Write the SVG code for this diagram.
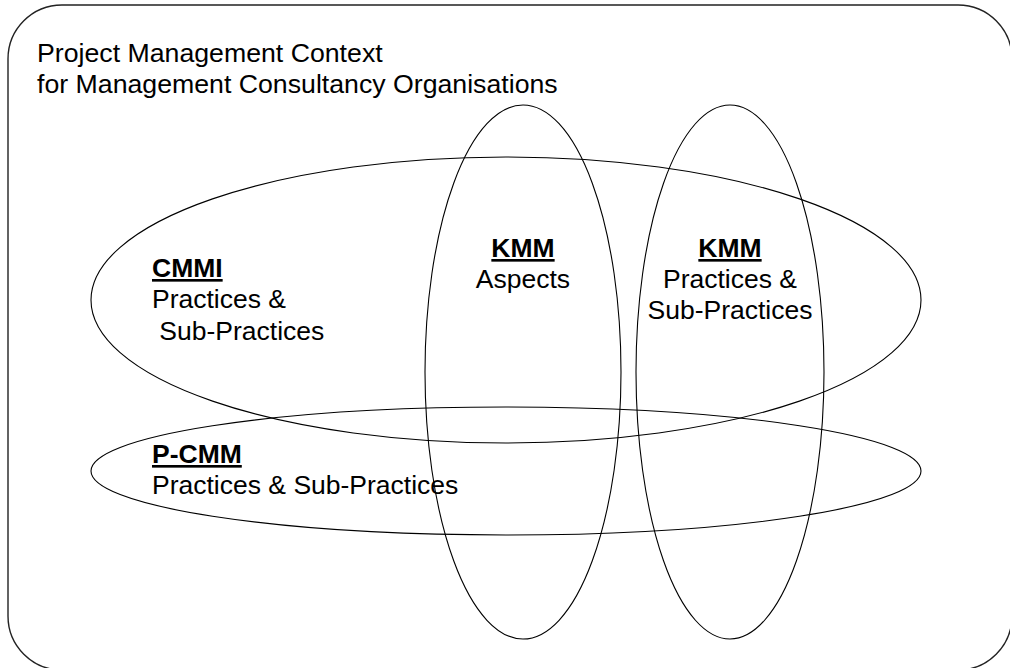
<svg xmlns="http://www.w3.org/2000/svg" width="1010" height="668" viewBox="0 0 1010 668">
<style>
  .frame { fill: none; stroke: #222; stroke-width: 1.4; }
  .set { fill: none; stroke: #000; stroke-width: 1.1; }
  .t { font-family: "Liberation Sans", Arial, sans-serif; font-size: 26.5px; fill: #000; }
  .h { font-weight: bold; text-decoration: underline; }
  .c { text-anchor: middle; }
</style>
<rect width="1010" height="668" fill="#fff"/>
<g id="context">
  <rect class="frame" x="8" y="5" width="1004" height="665" rx="54" ry="54"/>
  <text class="t" x="37" y="62" style="font-size:26.7px">Project Management Context</text>
  <text class="t" x="37" y="93" style="font-size:26.7px">for Management Consultancy Organisations</text>
</g>
<g id="cmmi">
  <ellipse class="set" cx="506" cy="300" rx="415" ry="143"/>
  <text class="t h" x="152" y="277">CMMI</text>
  <text class="t" x="152" y="308">Practices &amp;</text>
  <text class="t" x="152" y="340" xml:space="preserve"> Sub-Practices</text>
</g>
<g id="pcmm">
  <ellipse class="set" cx="506" cy="471" rx="415" ry="64"/>
  <text class="t h" x="152" y="463">P-CMM</text>
  <text class="t" x="152" y="494">Practices &amp; Sub-Practices</text>
</g>
<g id="kmm-aspects">
  <ellipse class="set" cx="523" cy="372" rx="98" ry="267"/>
  <text class="t h c" x="523" y="257">KMM</text>
  <text class="t c" x="523" y="288">Aspects</text>
</g>
<g id="kmm-practices">
  <ellipse class="set" cx="730" cy="372" rx="94" ry="267"/>
  <text class="t h c" x="730" y="257">KMM</text>
  <text class="t c" x="730" y="288">Practices &amp;</text>
  <text class="t c" x="730" y="319">Sub-Practices</text>
</g>
<g id="connectors"></g>
</svg>
